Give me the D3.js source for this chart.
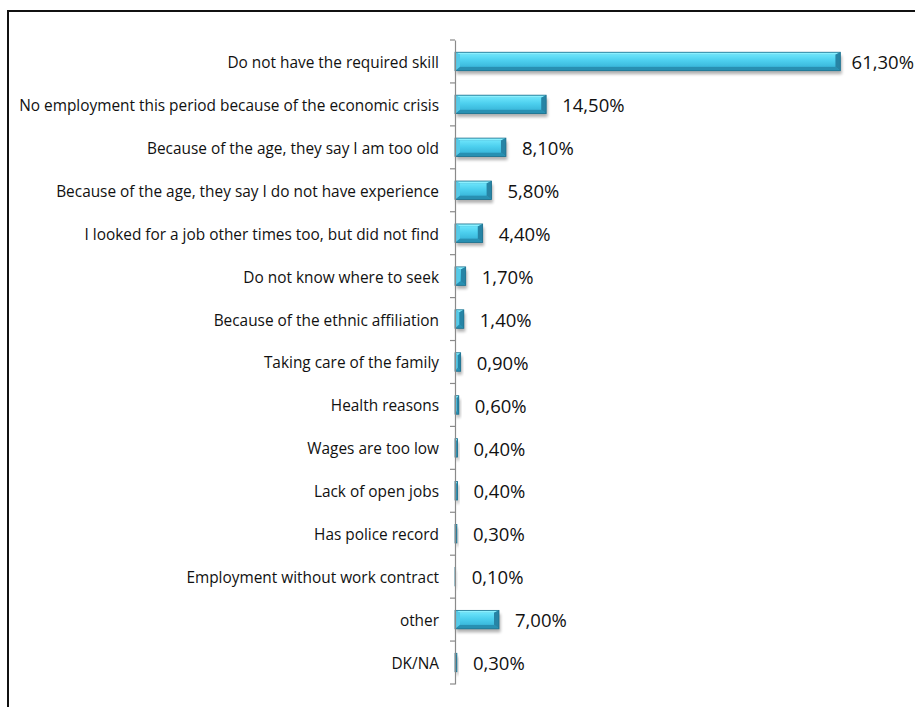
<!DOCTYPE html>
<html>
<head>
<meta charset="utf-8">
<script src="https://cdn.jsdelivr.net/npm/d3@7"></script>
<style>
  html, body { margin: 0; padding: 0; background: #fff; }
  svg { display: block; }
  .cat { font-family: "Open Sans", Lato, sans-serif; font-size: 15.4px; fill: #111; }
  .val { font-family: "Open Sans", Lato, sans-serif; font-size: 18.5px; fill: #111; }
</style>
</head>
<body>
<svg id="chart" width="915" height="707"></svg>
<script>
// Reasons for not finding a job (share of respondents, %)
const categories = [
  "Do not have the required skill",
  "No employment this period because of the economic crisis",
  "Because of the age, they say I am too old",
  "Because of the age, they say I do not have experience",
  "I looked for a job other times too, but did not find",
  "Do not know where to seek",
  "Because of the ethnic affiliation",
  "Taking care of the family",
  "Health reasons",
  "Wages are too low",
  "Lack of open jobs",
  "Has police record",
  "Employment without work contract",
  "other",
  "DK/NA"
];
const values = [61.3, 14.5, 8.1, 5.8, 4.4, 1.7, 1.4, 0.9, 0.6, 0.4, 0.4, 0.3, 0.1, 7.0, 0.3];
const valueLabels = ["61,30%", "14,50%", "8,10%", "5,80%", "4,40%", "1,70%", "1,40%", "0,90%",
                     "0,60%", "0,40%", "0,40%", "0,30%", "0,10%", "7,00%", "0,30%"];

const svg = d3.select("#chart");
const W = 915, H = 707;

// frame around the chart area
svg.append("rect")
  .attr("x", 8).attr("y", 11).attr("width", 1000).attr("height", 1000)
  .attr("fill", "none").attr("stroke", "#111").attr("stroke-width", 2);

const axisX = 455;
const x = d3.scaleLinear().domain([0, 70]).range([axisX, 895]);
const y = d3.scaleBand().domain(categories).range([40, 684]).padding(0);
const barH = y.bandwidth() * 0.43;

const defs = svg.append("defs");
const face = defs.append("linearGradient").attr("id", "face")
  .attr("x1", 0).attr("y1", 0).attr("x2", 0).attr("y2", 1);
face.append("stop").attr("offset", "0%").attr("stop-color", "#6ae3fa");
face.append("stop").attr("offset", "50%").attr("stop-color", "#4ccfee");
face.append("stop").attr("offset", "100%").attr("stop-color", "#3bb9dc");

const shadow = defs.append("filter").attr("id", "shadow")
  .attr("x", "-20%").attr("y", "-50%").attr("width", "140%").attr("height", "200%");
shadow.append("feGaussianBlur").attr("stdDeviation", 1.6);

const data = categories.map((c, i) => ({ c, v: values[i], lab: valueLabels[i] }));

const rows = svg.append("g").selectAll("g.bar")
  .data(data)
  .join("g").attr("class", "bar")
  .attr("transform", d => `translate(${axisX},${y(d.c) + (y.bandwidth() - barH) / 2})`);

rows.each(function (d) {
  const g = d3.select(this);
  const w = x(d.v) - x(0);
  const h = barH;
  const bs = Math.min(5, w / 2);   // side bevel
  const bt = 2.5;                  // top bevel
  const bb = 4;                    // bottom bevel
  // soft drop shadow
  g.append("rect").attr("x", 1.5).attr("y", 3.5).attr("width", w).attr("height", h)
    .attr("fill", "#000").attr("opacity", 0.3).attr("filter", "url(#shadow)");
  // base
  g.append("rect").attr("width", w).attr("height", h).attr("fill", "#36add0");
  // bevels: top, bottom, left, right
  g.append("polygon").attr("points", `0,0 ${w},0 ${w - bs},${bt} ${bs},${bt}`).attr("fill", "#8af0ff");
  g.append("polygon").attr("points", `0,${h} ${w},${h} ${w - bs},${h - bb} ${bs},${h - bb}`).attr("fill", "#2890b2");
  g.append("polygon").attr("points", `0,0 ${bs},${bt} ${bs},${h - bb} 0,${h}`).attr("fill", "#55cae8");
  g.append("polygon").attr("points", `${w},0 ${w - bs},${bt} ${w - bs},${h - bb} ${w},${h}`).attr("fill", "#2784a5");
  // face
  if (w - 2 * bs > 0) {
    g.append("rect").attr("x", bs).attr("y", bt).attr("width", w - 2 * bs).attr("height", h - bt - bb)
      .attr("fill", "url(#face)");
  }
  // outline
  g.append("rect").attr("width", w).attr("height", h).attr("fill", "none")
    .attr("stroke", "#1d6f8c").attr("stroke-width", 0.8);
});

// value labels outside the bar end, kept inside the picture
svg.append("g").selectAll("text")
  .data(data)
  .join("text").attr("class", "val")
  .attr("dy", "0.36em")
  .attr("y", d => y(d.c) + y.bandwidth() / 2 + 1)
  .text(d => d.lab)
  .attr("x", function (d) {
    const tw = this.getComputedTextLength();
    return Math.min(x(d.v) + 16, W - 1 - tw);
  });

// category axis
const axis = svg.append("g").attr("transform", `translate(${axisX},0)`)
  .call(d3.axisLeft(y).tickSize(0).tickPadding(16));
axis.select(".domain").attr("stroke", "#8a8a8a").attr("stroke-width", 1.2);
axis.selectAll(".tick text").attr("class", "cat").attr("font-family", null).attr("font-size", null)
  .attr("y", 1.5);
// separators between categories
axis.append("g").selectAll("line")
  .data(d3.range(categories.length + 1))
  .join("line")
  .attr("x1", -5).attr("x2", 0)
  .attr("y1", i => 40 + i * y.step()).attr("y2", i => 40 + i * y.step())
  .attr("stroke", "#8a8a8a").attr("stroke-width", 1.2);
</script>
</body>
</html>
